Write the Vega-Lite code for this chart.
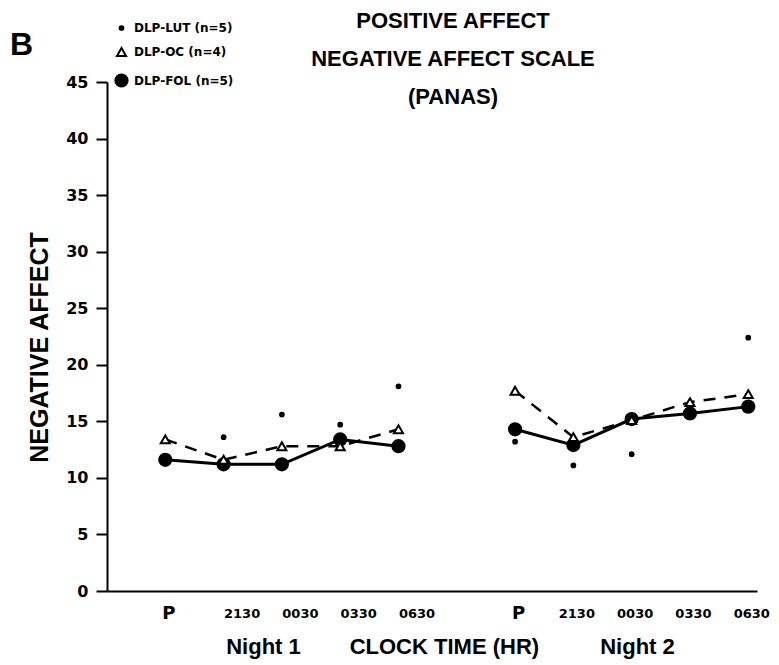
{
  "$schema": "https://vega.github.io/schema/vega-lite/v6.json",
  "width": 650,
  "height": 509,
  "autosize": {"type": "none"},
  "padding": {"left": 107, "top": 82, "right": 22, "bottom": 74},
  "background": "white",
  "config": {"view": {"stroke": null}, "font": "Liberation Sans"},
  "title": {
    "text": ["POSITIVE AFFECT", "NEGATIVE AFFECT SCALE", "(PANAS)"],
    "font": "Liberation Sans",
    "fontSize": 22,
    "fontWeight": "bold",
    "color": "black",
    "lineHeight": 38,
    "anchor": "middle",
    "frame": "group",
    "baseline": "top",
    "dx": 21,
    "offset": -87
  },
  "data": {
    "values": [
      {"series": "DLP-FOL (n=5)", "night": "Night 1", "slot": 0, "value": 11.6},
      {"series": "DLP-FOL (n=5)", "night": "Night 1", "slot": 1, "value": 11.2},
      {"series": "DLP-FOL (n=5)", "night": "Night 1", "slot": 2, "value": 11.2},
      {"series": "DLP-FOL (n=5)", "night": "Night 1", "slot": 3, "value": 13.4},
      {"series": "DLP-FOL (n=5)", "night": "Night 1", "slot": 4, "value": 12.8},
      {"series": "DLP-FOL (n=5)", "night": "Night 2", "slot": 6, "value": 14.3},
      {"series": "DLP-FOL (n=5)", "night": "Night 2", "slot": 7, "value": 12.9},
      {"series": "DLP-FOL (n=5)", "night": "Night 2", "slot": 8, "value": 15.2},
      {"series": "DLP-FOL (n=5)", "night": "Night 2", "slot": 9, "value": 15.7},
      {"series": "DLP-FOL (n=5)", "night": "Night 2", "slot": 10, "value": 16.3},
      {"series": "DLP-OC (n=4)", "night": "Night 1", "slot": 0, "value": 13.4},
      {"series": "DLP-OC (n=4)", "night": "Night 1", "slot": 1, "value": 11.6},
      {"series": "DLP-OC (n=4)", "night": "Night 1", "slot": 2, "value": 12.8},
      {"series": "DLP-OC (n=4)", "night": "Night 1", "slot": 3, "value": 12.8},
      {"series": "DLP-OC (n=4)", "night": "Night 1", "slot": 4, "value": 14.3},
      {"series": "DLP-OC (n=4)", "night": "Night 2", "slot": 6, "value": 17.7},
      {"series": "DLP-OC (n=4)", "night": "Night 2", "slot": 7, "value": 13.6},
      {"series": "DLP-OC (n=4)", "night": "Night 2", "slot": 8, "value": 15.1},
      {"series": "DLP-OC (n=4)", "night": "Night 2", "slot": 9, "value": 16.7},
      {"series": "DLP-OC (n=4)", "night": "Night 2", "slot": 10, "value": 17.4},
      {"series": "DLP-LUT (n=5)", "night": "Night 1", "slot": 0, "value": 11.7},
      {"series": "DLP-LUT (n=5)", "night": "Night 1", "slot": 1, "value": 13.6},
      {"series": "DLP-LUT (n=5)", "night": "Night 1", "slot": 2, "value": 15.6},
      {"series": "DLP-LUT (n=5)", "night": "Night 1", "slot": 3, "value": 14.7},
      {"series": "DLP-LUT (n=5)", "night": "Night 1", "slot": 4, "value": 18.1},
      {"series": "DLP-LUT (n=5)", "night": "Night 2", "slot": 6, "value": 13.2},
      {"series": "DLP-LUT (n=5)", "night": "Night 2", "slot": 7, "value": 11.1},
      {"series": "DLP-LUT (n=5)", "night": "Night 2", "slot": 8, "value": 12.1},
      {"series": "DLP-LUT (n=5)", "night": "Night 2", "slot": 9, "value": 16.2},
      {"series": "DLP-LUT (n=5)", "night": "Night 2", "slot": 10, "value": 22.4}
    ]
  },
  "encoding": {
    "x": {
      "field": "slot",
      "type": "quantitative",
      "scale": {"domain": [-1, 10.15], "nice": false, "zero": false},
      "axis": {
        "values": [0, 1, 2, 3, 4, 6, 7, 8, 9, 10],
        "labelExpr": "datum.value == 0 || datum.value == 6 ? 'P' : ['2130','0030','0330','0630'][datum.value < 6 ? datum.value - 1 : datum.value - 7]",
        "ticks": false,
        "grid": false,
        "domainColor": "black",
        "domainWidth": 2,
        "labelFont": "DejaVu Sans",
        "labelFontWeight": "bold",
        "labelColor": "black",
        "labelFontSize": {"condition": {"test": "datum.value == 0 || datum.value == 6", "value": 18}, "value": 13},
        "labelOffset": {"condition": {"test": "datum.value >= 1 && datum.value <= 4", "value": 18}, "value": 3},
        "labelBaseline": "middle",
        "labelPadding": 22,
        "labelFlush": false,
        "labelOverlap": false,
        "labelBound": false,
        "title": "Night 1\u00a0\u00a0\u00a0\u00a0\u00a0\u00a0\u00a0\u00a0CLOCK TIME (HR)\u00a0\u00a0\u00a0\u00a0\u00a0\u00a0\u00a0\u00a0\u00a0\u00a0Night 2",
        "titleFont": "Liberation Sans",
        "titleFontSize": 22,
        "titleFontWeight": "bold",
        "titleColor": "black",
        "titleX": 343,
        "titleY": 62,
        "titleBaseline": "alphabetic"
      }
    },
    "y": {
      "field": "value",
      "type": "quantitative",
      "scale": {"domain": [0, 45], "nice": false, "zero": true},
      "axis": {
        "values": [0, 5, 10, 15, 20, 25, 30, 35, 40, 45],
        "grid": false,
        "domainColor": "black",
        "domainWidth": 2,
        "tickColor": "black",
        "tickWidth": 2,
        "tickSize": 11,
        "labelFont": "DejaVu Sans",
        "labelFontSize": 16,
        "labelFontWeight": "bold",
        "labelColor": "black",
        "labelPadding": 8,
        "labelFlush": false,
        "labelOverlap": false,
        "title": "NEGATIVE AFFECT",
        "titleFont": "Liberation Sans",
        "titleFontSize": 25,
        "titleFontWeight": "bold",
        "titleColor": "black",
        "titleAngle": -90,
        "titleX": -60,
        "titleY": 265,
        "titleAlign": "center",
        "titleBaseline": "alphabetic"
      }
    }
  },
  "layer": [
    {
      "transform": [{"filter": "datum.series == 'DLP-OC (n=4)'"}],
      "mark": {"type": "line", "color": "black", "strokeWidth": 2.5, "strokeDash": [12, 9]},
      "encoding": {"detail": {"field": "night"}}
    },
    {
      "transform": [{"filter": "datum.series == 'DLP-FOL (n=5)'"}],
      "mark": {"type": "line", "color": "black", "strokeWidth": 3},
      "encoding": {"detail": {"field": "night"}}
    },
    {
      "mark": {"type": "point", "stroke": "black", "strokeWidth": 2, "opacity": 1},
      "encoding": {
        "shape": {
          "field": "series",
          "type": "nominal",
          "scale": {"domain": ["DLP-LUT (n=5)", "DLP-OC (n=4)", "DLP-FOL (n=5)"], "range": ["circle", "triangle-up", "circle"]},
          "legend": {
            "title": "B",
            "orient": "none",
            "legendX": -97,
            "legendY": -60,
            "titleOrient": "left",
            "titleAnchor": "start",
            "titleFont": "Liberation Sans",
            "titleFontSize": 32,
            "titleFontWeight": "bold",
            "titleColor": "black",
            "titleBaseline": "line-top",
            "titleLineHeight": 48,
            "titlePadding": 80,
            "labelFont": "DejaVu Sans",
            "labelFontSize": 12,
            "labelFontWeight": "bold",
            "labelColor": "black",
            "labelOffset": 5,
            "rowPadding": 10,
            "padding": 0,
            "symbolStrokeColor": "black",
            "symbolStrokeWidth": 2
          }
        },
        "fill": {
          "field": "series",
          "type": "nominal",
          "scale": {"domain": ["DLP-LUT (n=5)", "DLP-OC (n=4)", "DLP-FOL (n=5)"], "range": ["black", "white", "black"]}
        },
        "size": {
          "field": "series",
          "type": "nominal",
          "scale": {"domain": ["DLP-LUT (n=5)", "DLP-OC (n=4)", "DLP-FOL (n=5)"], "range": [14, 150, 190]}
        }
      }
    }
  ]
}
